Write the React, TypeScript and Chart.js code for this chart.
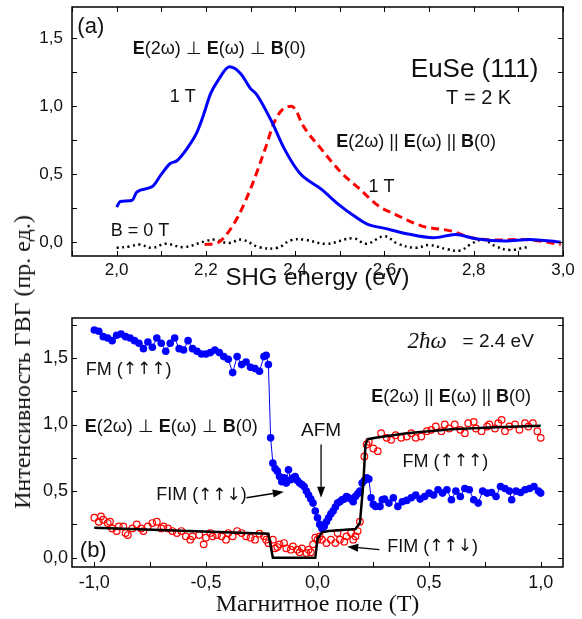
import React, { useEffect, useRef } from 'react';
import { Chart, registerables } from 'chart.js';

Chart.register(...registerables);

const SANS = '"Liberation Sans", Arial, sans-serif';
const SERIF = '"Liberation Serif", "Times New Roman", serif';
const DEJAVU = '"DejaVu Sans", sans-serif';
const BLUE = 'rgb(0,0,255)';
const RED = 'rgb(255,0,0)';

// ---------- Panel (a): SHG spectra ----------
const energyPerp = [2.0, 2.008, 2.035, 2.045, 2.08, 2.1, 2.12, 2.135, 2.16, 2.18, 2.195, 2.21, 2.227, 2.253, 2.278, 2.3, 2.313, 2.347, 2.377, 2.41, 2.459, 2.497, 2.534, 2.564, 2.598, 2.647, 2.71, 2.759, 2.804, 2.871, 2.924, 2.995];
const shgPerp = [0.26, 0.3, 0.31, 0.37, 0.41, 0.5, 0.58, 0.6, 0.7, 0.81, 0.94, 1.09, 1.19, 1.29, 1.24, 1.13, 1.09, 0.89, 0.68, 0.51, 0.39, 0.28, 0.19, 0.13, 0.105, 0.066, 0.034, 0.058, 0.027, 0.01, 0.022, 0.002];

const energyPar = [2.197, 2.227, 2.249, 2.272, 2.302, 2.332, 2.354, 2.377, 2.392, 2.405, 2.414, 2.459, 2.504, 2.542, 2.587, 2.624, 2.684, 2.751, 2.796, 2.849, 2.909, 2.995];
const shgPar = [-0.015, -0.002, 0.07, 0.19, 0.41, 0.68, 0.89, 0.99, 1.0, 0.95, 0.88, 0.684, 0.51, 0.4, 0.267, 0.206, 0.12, 0.083, 0.034, 0.017, 0.022, -0.015];

const energyZero = [2.0, 2.03, 2.05, 2.08, 2.11, 2.15, 2.2, 2.22, 2.25, 2.28, 2.32, 2.36, 2.39, 2.42, 2.47, 2.53, 2.56, 2.6, 2.63, 2.67, 2.7, 2.74, 2.77, 2.79, 2.82, 2.85, 2.88, 2.92];
const shgZero = [-0.04, -0.03, -0.015, -0.04, -0.01, -0.035, 0.01, 0.02, -0.005, 0.02, -0.035, -0.04, 0.015, 0.02, -0.01, 0.03, -0.01, 0.045, -0.01, -0.04, -0.02, -0.05, -0.06, -0.02, 0.02, -0.03, -0.055, -0.035];

const xTicksA = [2.0, 2.2, 2.4, 2.6, 2.8, 3.0];
const xMarksA = [1.9, 2.0, 2.1, 2.2, 2.3, 2.4, 2.5, 2.6, 2.7, 2.8, 2.9, 3.0];
const yTicksA = [0, 0.5, 1.0, 1.5];
const yMarksA = [0, 0.25, 0.5, 0.75, 1.0, 1.25, 1.5];

// ---------- Panel (b): field dependence ----------
const fieldPerp = [-1.0, -0.98, -0.96, -0.94, -0.92, -0.9, -0.88, -0.86, -0.84, -0.82, -0.8, -0.78, -0.76, -0.74, -0.72, -0.7, -0.68, -0.66, -0.64, -0.62, -0.6, -0.58, -0.56, -0.54, -0.52, -0.5, -0.48, -0.46, -0.44, -0.42, -0.4, -0.38, -0.36, -0.34, -0.32, -0.3, -0.28, -0.26, -0.24, -0.23, -0.22, -0.21, -0.2, -0.19, -0.18, -0.17, -0.16, -0.15, -0.14, -0.13, -0.12, -0.11, -0.1, -0.09, -0.08, -0.07, -0.06, -0.05, -0.04, -0.03, -0.02, -0.01, 0.0, 0.01, 0.02, 0.03, 0.04, 0.05, 0.06, 0.07, 0.08, 0.09, 0.1, 0.11, 0.12, 0.13, 0.14, 0.15, 0.16, 0.17, 0.18, 0.19, 0.2, 0.21, 0.22, 0.23, 0.24, 0.25, 0.26, 0.28, 0.29, 0.3, 0.32, 0.34, 0.36, 0.38, 0.4, 0.42, 0.44, 0.46, 0.48, 0.5, 0.52, 0.54, 0.56, 0.58, 0.6, 0.62, 0.64, 0.66, 0.68, 0.7, 0.72, 0.74, 0.76, 0.78, 0.8, 0.82, 0.84, 0.86, 0.87, 0.89, 0.91, 0.93, 0.95, 0.97, 0.99, 1.0];
const shgFieldPerp = [1.71, 1.7, 1.66, 1.65, 1.63, 1.67, 1.68, 1.66, 1.65, 1.63, 1.61, 1.57, 1.62, 1.58, 1.65, 1.61, 1.55, 1.61, 1.65, 1.57, 1.56, 1.63, 1.57, 1.55, 1.53, 1.53, 1.54, 1.56, 1.54, 1.51, 1.49, 1.39, 1.51, 1.45, 1.47, 1.43, 1.42, 1.4, 1.51, 1.52, 1.45, 0.9, 0.71, 0.67, 0.65, 0.61, 0.57, 0.6, 0.56, 0.66, 0.585, 0.6, 0.61, 0.58, 0.56, 0.55, 0.535, 0.5, 0.47, 0.44, 0.41, 0.35, 0.3, 0.25, 0.22, 0.235, 0.27, 0.3, 0.33, 0.35, 0.38, 0.41, 0.42, 0.435, 0.44, 0.46, 0.45, 0.44, 0.42, 0.46, 0.48, 0.5, 0.56, 0.58, 0.6, 0.59, 0.45, 0.4, 0.385, 0.385, 0.435, 0.44, 0.41, 0.45, 0.385, 0.42, 0.43, 0.45, 0.47, 0.44, 0.46, 0.485, 0.47, 0.51, 0.485, 0.51, 0.435, 0.5, 0.46, 0.52, 0.51, 0.435, 0.41, 0.5, 0.485, 0.49, 0.46, 0.535, 0.52, 0.5, 0.435, 0.5, 0.49, 0.51, 0.52, 0.535, 0.5, 0.485];

const fieldPar = [-1.0, -0.98, -0.97, -0.96, -0.94, -0.93, -0.92, -0.9, -0.89, -0.87, -0.86, -0.85, -0.83, -0.81, -0.79, -0.78, -0.76, -0.74, -0.72, -0.7, -0.69, -0.67, -0.65, -0.63, -0.61, -0.59, -0.57, -0.56, -0.53, -0.51, -0.5, -0.48, -0.47, -0.45, -0.43, -0.41, -0.4, -0.38, -0.36, -0.34, -0.32, -0.3, -0.28, -0.26, -0.24, -0.23, -0.22, -0.2, -0.19, -0.18, -0.17, -0.15, -0.14, -0.12, -0.11, -0.09, -0.08, -0.07, -0.05, -0.04, -0.03, -0.02, -0.01, 0.0, 0.01, 0.02, 0.04, 0.06, 0.08, 0.09, 0.1, 0.12, 0.13, 0.15, 0.16, 0.17, 0.18, 0.19, 0.21, 0.22, 0.23, 0.25, 0.27, 0.285, 0.31, 0.33, 0.35, 0.375, 0.4, 0.42, 0.44, 0.465, 0.49, 0.51, 0.53, 0.555, 0.57, 0.59, 0.615, 0.64, 0.66, 0.675, 0.7, 0.71, 0.735, 0.76, 0.77, 0.795, 0.81, 0.825, 0.84, 0.86, 0.885, 0.905, 0.93, 0.945, 0.965, 0.985, 1.0];
const shgFieldPar = [0.3, 0.27, 0.31, 0.285, 0.26, 0.27, 0.22, 0.2, 0.235, 0.235, 0.185, 0.17, 0.22, 0.25, 0.22, 0.2, 0.235, 0.26, 0.27, 0.22, 0.235, 0.22, 0.2, 0.185, 0.2, 0.16, 0.135, 0.16, 0.17, 0.1, 0.15, 0.185, 0.16, 0.17, 0.16, 0.135, 0.185, 0.16, 0.2, 0.185, 0.16, 0.15, 0.135, 0.18, 0.16, 0.135, 0.11, 0.135, 0.07, 0.08, 0.1, 0.11, 0.07, 0.06, 0.085, 0.06, 0.04, 0.07, 0.035, 0.06, 0.04, 0.1, 0.15, 0.135, 0.16, 0.135, 0.11, 0.135, 0.11, 0.185, 0.135, 0.12, 0.16, 0.185, 0.135, 0.16, 0.2, 0.27, 0.76, 0.85, 0.87, 0.82, 0.8, 0.935, 0.9, 0.885, 0.92, 0.9, 0.91, 0.935, 0.9, 0.91, 0.95, 0.96, 0.985, 0.95, 1.0, 0.97, 1.0, 0.96, 0.935, 1.01, 1.02, 0.97, 0.95, 0.985, 1.0, 0.97, 1.01, 1.035, 0.95, 0.985, 1.0, 0.96, 1.01, 0.985, 1.01, 0.95, 0.9];

const fieldFit = [-1.0, -0.22, -0.2, -0.01, 0.0, 0.02, 0.05, 0.17, 0.19, 0.205, 0.215, 0.225, 0.26, 0.4, 0.6, 0.8, 1.0];
const shgFit = [0.225, 0.18, 0.0, 0.0, 0.14, 0.19, 0.2, 0.215, 0.26, 0.55, 0.85, 0.89, 0.9, 0.935, 0.965, 0.98, 0.99];

const xTicksB = [-1.0, -0.5, 0.0, 0.5, 1.0];
const xMarksB = [-1.0, -0.75, -0.5, -0.25, 0.0, 0.25, 0.5, 0.75, 1.0];
const yTicksB = [0, 0.5, 1.0, 1.5];
const yMarksB = [0, 0.25, 0.5, 0.75, 1.0, 1.25, 1.5, 1.75];

type Seg = { t: string; bold?: boolean; italic?: boolean; family?: string; size?: number };
type Note = { x: number; y: number; size: number; segs: Seg[]; align?: 'left' | 'center' };
type Arrow = { x1: number; y1: number; x2: number; y2: number };

const perpLabel = (): Seg[] => [
  { t: 'E', bold: true }, { t: '(2ω) ⊥ ' }, { t: 'E', bold: true }, { t: '(ω) ⊥ ' }, { t: 'B', bold: true }, { t: '(0)' },
];
const parLabel = (): Seg[] => [
  { t: 'E', bold: true }, { t: '(2ω) || ' }, { t: 'E', bold: true }, { t: '(ω) || ' }, { t: 'B', bold: true }, { t: '(0)' },
];
const phaseLabel = (name: string, spins: string): Seg[] => [
  { t: name + ' (' }, { t: spins, family: DEJAVU, size: 17 }, { t: ')' },
];

const notesA: Note[] = [
  { x: 1.912, y: 1.58, size: 22, segs: [{ t: '(a)' }] },
  { x: 2.036, y: 1.42, size: 18, segs: perpLabel() },
  { x: 2.119, y: 1.07, size: 18, segs: [{ t: '1 T' }] },
  { x: 2.802, y: 1.27, size: 26, segs: [{ t: 'EuSe (111)' }], align: 'center' },
  { x: 2.811, y: 1.06, size: 20, segs: [{ t: 'T = 2 K' }], align: 'center' },
  { x: 2.492, y: 0.74, size: 18, segs: parLabel() },
  { x: 2.564, y: 0.41, size: 18, segs: [{ t: '1 T' }] },
  { x: 1.987, y: 0.08, size: 18, segs: [{ t: 'B = 0 T' }] },
];

const notesB: Note[] = [
  { x: 0.403, y: 1.62, size: 19, segs: [{ t: '2ħω', italic: true, family: SERIF, size: 23 }, { t: '   = 2.4 eV' }] },
  { x: 0.241, y: 1.21, size: 18, segs: parLabel() },
  { x: -0.074, y: 0.95, size: 19, segs: [{ t: 'AFM' }] },
  { x: 0.381, y: 0.72, size: 18, segs: phaseLabel('FM', '↑↑↑') },
  { x: 0.313, y: 0.083, size: 18, segs: phaseLabel('FIM', '↑↑↓') },
  { x: -1.038, y: 1.41, size: 18, segs: phaseLabel('FM', '↑↑↑') },
  { x: -1.043, y: 0.98, size: 18, segs: perpLabel() },
  { x: -0.723, y: 0.47, size: 18, segs: phaseLabel('FIM', '↑↑↓') },
  { x: -1.065, y: 0.05, size: 22, segs: [{ t: '(b)' }] },
];

const arrowsB: Arrow[] = [
  { x1: 0.016, y1: 0.85, x2: 0.016, y2: 0.45 },
  { x1: 0.277, y1: 0.06, x2: 0.133, y2: 0.083 },
  { x1: -0.318, y1: 0.45, x2: -0.151, y2: 0.495 },
];

const segFont = (s: Seg, size: number) =>
  `${s.italic ? 'italic ' : ''}${s.bold ? 'bold ' : ''}${s.size ?? size}px ${s.family ?? SANS}`;

const framePlugin = {
  id: 'frame',
  afterDatasetsDraw(chart: any, _a: any, opts: any) {
    const { ctx, chartArea: ca, scales } = chart;
    const xs = scales.x, ys = scales.y;
    ctx.save();
    ctx.strokeStyle = '#000';
    ctx.lineWidth = 1;
    const L = 5;
    ctx.beginPath();
    for (const v of opts.xMarks) {
      const px = Math.round(xs.getPixelForValue(v)) + 0.5;
      ctx.moveTo(px, ca.bottom); ctx.lineTo(px, ca.bottom - L);
      if (opts.top) { ctx.moveTo(px, ca.top); ctx.lineTo(px, ca.top + L); }
    }
    for (const v of opts.yMarks) {
      const py = Math.round(ys.getPixelForValue(v)) + 0.5;
      ctx.moveTo(ca.left, py); ctx.lineTo(ca.left + L, py);
      ctx.moveTo(ca.right, py); ctx.lineTo(ca.right - L, py);
    }
    ctx.stroke();
    ctx.lineWidth = 1.5;
    ctx.strokeRect(ca.left, ca.top, ca.right - ca.left, ca.bottom - ca.top);
    ctx.restore();
  },
};

const notesPlugin = {
  id: 'notes',
  afterDraw(chart: any, _a: any, opts: any) {
    const { ctx, scales } = chart;
    const xs = scales.x, ys = scales.y;
    ctx.save();
    ctx.fillStyle = '#111';
    ctx.textBaseline = 'middle';
    ctx.textAlign = 'left';
    for (const n of (opts.notes || []) as Note[]) {
      let total = 0;
      for (const s of n.segs) { ctx.font = segFont(s, n.size); total += ctx.measureText(s.t).width; }
      let px = xs.getPixelForValue(n.x);
      if (n.align === 'center') px -= total / 2;
      const py = ys.getPixelForValue(n.y);
      for (const s of n.segs) {
        ctx.font = segFont(s, n.size);
        ctx.fillText(s.t, px, py);
        px += ctx.measureText(s.t).width;
      }
    }
    ctx.strokeStyle = '#000';
    ctx.fillStyle = '#000';
    ctx.lineWidth = 1.3;
    for (const a of (opts.arrows || []) as Arrow[]) {
      const x1 = xs.getPixelForValue(a.x1), y1 = ys.getPixelForValue(a.y1);
      const x2 = xs.getPixelForValue(a.x2), y2 = ys.getPixelForValue(a.y2);
      const ang = Math.atan2(y2 - y1, x2 - x1);
      const hl = 11, hw = 4;
      const bx = x2 - hl * Math.cos(ang), by = y2 - hl * Math.sin(ang);
      ctx.beginPath(); ctx.moveTo(x1, y1); ctx.lineTo(bx, by); ctx.stroke();
      ctx.beginPath();
      ctx.moveTo(x2, y2);
      ctx.lineTo(bx + hw * Math.sin(ang), by - hw * Math.cos(ang));
      ctx.lineTo(bx - hw * Math.sin(ang), by + hw * Math.cos(ang));
      ctx.closePath(); ctx.fill();
    }
    ctx.restore();
  },
};

const pts = (xs: number[], ys: number[]) => xs.map((x, i) => ({ x, y: ys[i] }));
const fmt = (v: number) => (Math.round(v * 10) / 10).toFixed(1).replace('.', ',');

function axes(cfg: any) {
  return {
    x: {
      type: 'linear', min: cfg.xmin, max: cfg.xmax,
      grid: { display: false, drawTicks: false }, border: { display: false },
      afterBuildTicks: (s: any) => { s.ticks = cfg.xTicks.map((v: number) => ({ value: v })); },
      afterFit: (s: any) => { s.height = cfg.xh; s.paddingLeft = 0; s.paddingRight = 0; },
      ticks: { color: '#111', font: { family: SANS, size: cfg.tickSize }, padding: cfg.xpad, callback: (v: any) => fmt(Number(v)), maxRotation: 0 },
      title: { display: true, text: cfg.xTitle, color: '#111', font: cfg.xTitleFont, padding: { top: 0, bottom: cfg.xTitlePad } },
    },
    y: {
      type: 'linear', min: cfg.ymin, max: cfg.ymax,
      grid: { display: false, drawTicks: false }, border: { display: false },
      afterBuildTicks: (s: any) => { s.ticks = cfg.yTicks.map((v: number) => ({ value: v })); },
      afterFit: (s: any) => { s.width = 72; s.paddingTop = 0; s.paddingBottom = 0; },
      ticks: { color: '#111', font: { family: SANS, size: cfg.tickSize }, padding: cfg.ypad, callback: (v: any) => fmt(Number(v)) },
    },
  };
}

export default function App() {
  const refA = useRef<HTMLCanvasElement>(null);
  const refB = useRef<HTMLCanvasElement>(null);

  useEffect(() => {
    const chartA = new Chart(refA.current as HTMLCanvasElement, {
      type: 'line',
      data: {
        datasets: [
          { data: pts(energyPerp, shgPerp), borderColor: BLUE, borderWidth: 3, pointRadius: 0, cubicInterpolationMode: 'monotone' },
          { data: pts(energyPar, shgPar), borderColor: RED, borderWidth: 3, borderDash: [8, 5], pointRadius: 0, cubicInterpolationMode: 'monotone' },
          { data: pts(energyZero, shgZero), borderColor: '#000', borderWidth: 2.5, borderDash: [2, 3.5], pointRadius: 0, tension: 0.4 },
        ],
      } as any,
      options: {
        animation: false, responsive: false, devicePixelRatio: 1,
        layout: { padding: { left: 0, right: 19, top: 7, bottom: 0 } },
        plugins: {
          legend: { display: false }, tooltip: { enabled: false },
          frame: { xMarks: xMarksA, yMarks: yMarksA, top: true },
          notes: { notes: notesA, arrows: [] },
        } as any,
        scales: axes({
          xmin: 1.9, xmax: 3.0, ymin: -0.1, ymax: 1.73, xTicks: xTicksA, yTicks: yTicksA,
          xh: 44, tickSize: 17, xpad: 4, ypad: 9,
          xTitle: 'SHG energy (eV)', xTitleFont: { family: SANS, size: 24 }, xTitlePad: 7,
        }) as any,
      },
      plugins: [framePlugin, notesPlugin],
    });

    const chartB = new Chart(refB.current as HTMLCanvasElement, {
      type: 'line',
      data: {
        datasets: [
          { data: pts(fieldFit, shgFit), borderColor: '#000', borderWidth: 2.5, pointRadius: 0, tension: 0, order: 0 },
          { data: pts(fieldPerp, shgFieldPerp), borderColor: BLUE, borderWidth: 1, pointRadius: 3.8, pointBackgroundColor: BLUE, pointBorderColor: BLUE, pointBorderWidth: 0, tension: 0, order: 1 },
          { data: pts(fieldPar, shgFieldPar), showLine: false, pointRadius: 3.3, pointBorderColor: RED, pointBackgroundColor: 'rgba(255,255,255,0)', pointBorderWidth: 1.2, borderColor: RED, order: 2 },
        ],
      } as any,
      options: {
        animation: false, responsive: false, devicePixelRatio: 1,
        layout: { padding: { left: 0, right: 19, top: 18, bottom: 0 } },
        plugins: {
          legend: { display: false }, tooltip: { enabled: false },
          frame: { xMarks: xMarksB, yMarks: yMarksB, top: false },
          notes: { notes: notesB, arrows: arrowsB },
        } as any,
        scales: axes({
          xmin: -1.1, xmax: 1.1, ymin: -0.07, ymax: 1.8, xTicks: xTicksB, yTicks: yTicksB,
          xh: 52, tickSize: 18, xpad: 5, ypad: 4,
          xTitle: 'Магнитное поле (Т)', xTitleFont: { family: SERIF, size: 24 }, xTitlePad: 0,
        }) as any,
      },
      plugins: [framePlugin, notesPlugin],
    });

    return () => { chartA.destroy(); chartB.destroy(); };
  }, []);

  return (
    <div style={{ position: 'absolute', left: 0, top: 0, width: 582, height: 619, background: '#fff' }}>
      <canvas ref={refA} width={582} height={300} style={{ position: 'absolute', left: 0, top: 0, width: 582, height: 300 }} />
      <canvas ref={refB} width={582} height={319} style={{ position: 'absolute', left: 0, top: 300, width: 582, height: 319 }} />
      <div style={{
        position: 'absolute', left: 22, top: 362, transform: 'translate(-50%, -50%) rotate(-90deg)',
        whiteSpace: 'nowrap', fontFamily: SERIF, fontSize: 24, color: '#111', lineHeight: 1,
      }}>Интенсивность ГВГ (пр. ед.)</div>
    </div>
  );
}
